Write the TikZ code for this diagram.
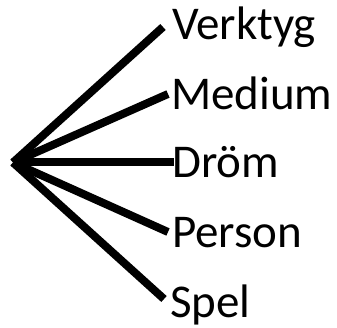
\documentclass[tikz,border=0pt]{standalone}
\usepackage{fontspec}
\setmainfont{Carlito}
\begin{document}
\begin{tikzpicture}[x=1pt,y=-1pt,
  spoke/.style={line width=8pt,line cap=butt},
  lbl/.style={anchor=base west,inner sep=0pt,font=\fontsize{47}{56}\selectfont}]
\useasboundingbox (0,0) rectangle (337,328);
\coordinate (apex) at (13,162.5);
\coordinate (e1) at (163,27);
\coordinate (e2) at (168,94);
\coordinate (e3) at (174,162.5);
\coordinate (e4) at (168,232);
\coordinate (e5) at (164,299);
\node[lbl] (verktyg) at (172,40) {Verktyg};
\node[lbl] (medium) at (171,110) {Medium};
\node[lbl] (drom) at (172,178) {Dröm};
\node[lbl] (person) at (172,248) {Person};
\node[lbl] (spel) at (170,317) {Spel};
\foreach \e in {e1,e2,e3,e4,e5} \draw[spoke] (apex) -- (\e);
\end{tikzpicture}
\end{document}
